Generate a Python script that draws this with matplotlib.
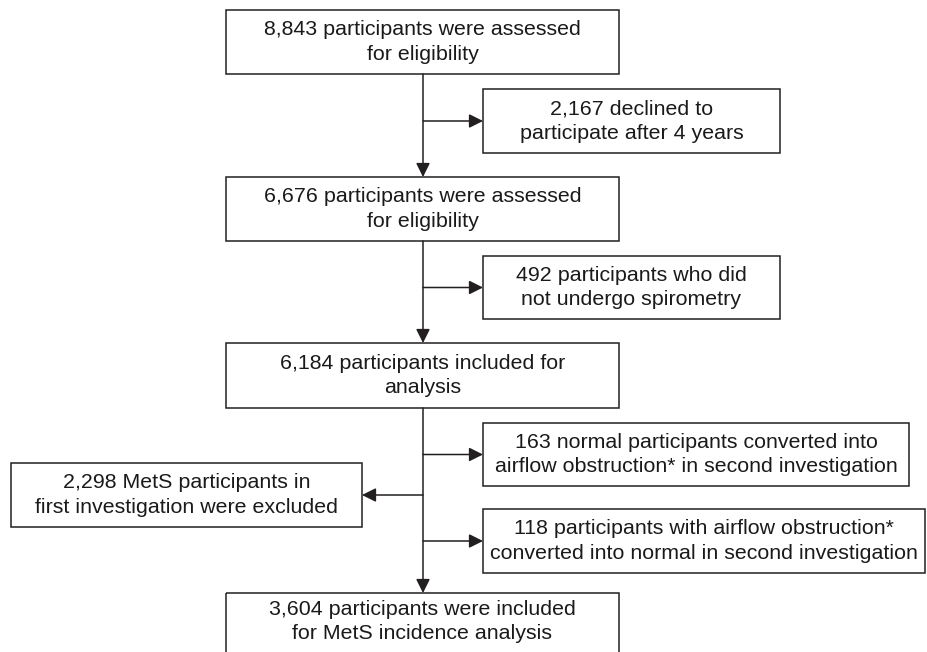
import matplotlib.pyplot as plt
from matplotlib.patches import Rectangle

plt.rcParams['font.family'] = ['Liberation Sans', 'DejaVu Sans']

# box texts
main_texts = [
    "8,843 participants were assessed\nfor eligibility",
    "6,676 participants were assessed\nfor eligibility",
    "6,184 participants included for\nanalysis",
    "3,604 participants were included\nfor MetS incidence analysis",
]
side_texts = [
    "2,167 declined to\nparticipate after 4 years",
    "492 participants who did\nnot undergo spirometry",
    "163 normal participants converted into\nairflow obstruction* in second investigation",
    "118 participants with airflow obstruction*\nconverted into normal in second investigation",
]
left_text = "2,298 MetS participants in\nfirst investigation were excluded"

# layout in pixels (x0, y0, x1, y1), y downwards
main_boxes = [(226, 10, 619, 74), (226, 177, 619, 241), (226, 343, 619, 408), (226, 593, 619, 672)]
side_boxes = [(483, 89, 780, 153), (483, 256, 780, 319), (483, 423, 909, 486), (483, 509, 925, 573)]
left_box = (11, 463, 362, 527)
xc = 423
lc = '#231f20'

fig = plt.figure(figsize=(9.28, 6.52), dpi=100)
ax = fig.add_axes([0, 0, 1, 1])
ax.set_xlim(0, 928)
ax.set_ylim(652, 0)
ax.axis('off')


def box(b, text, dy=0):
    x0, y0, x1, y1 = b
    ax.add_patch(Rectangle((x0, y0), x1 - x0, y1 - y0, fill=False, ec=lc, lw=1.1))
    ax.text((x0 + x1) / 2, (y0 + y1) / 2 + dy, text, ha='center', va='center',
            fontsize=15.4, color='#1a1a1a', linespacing=1.36)


def arrow(x0, y0, x1, y1):
    ax.annotate('', xy=(x1, y1), xytext=(x0, y0),
                arrowprops=dict(arrowstyle='-|>', color=lc, lw=1.1,
                                mutation_scale=21, shrinkA=0, shrinkB=0))


for i, (b, t) in enumerate(zip(main_boxes, main_texts)):
    box(b, t, dy=-11 if i == 3 else 0)
for b, t in zip(side_boxes, side_texts):
    box(b, t)
box(left_box, left_text)

# vertical arrows
arrow(xc, 74, xc, 177)
arrow(xc, 241, xc, 343)
arrow(xc, 408, xc, 593)

# side arrows
for b in side_boxes:
    ym = (b[1] + b[3]) / 2
    arrow(xc, ym, b[0], ym)
ym = (left_box[1] + left_box[3]) / 2
arrow(xc, ym, left_box[2], ym)

fig.savefig('out.png', dpi=100)
